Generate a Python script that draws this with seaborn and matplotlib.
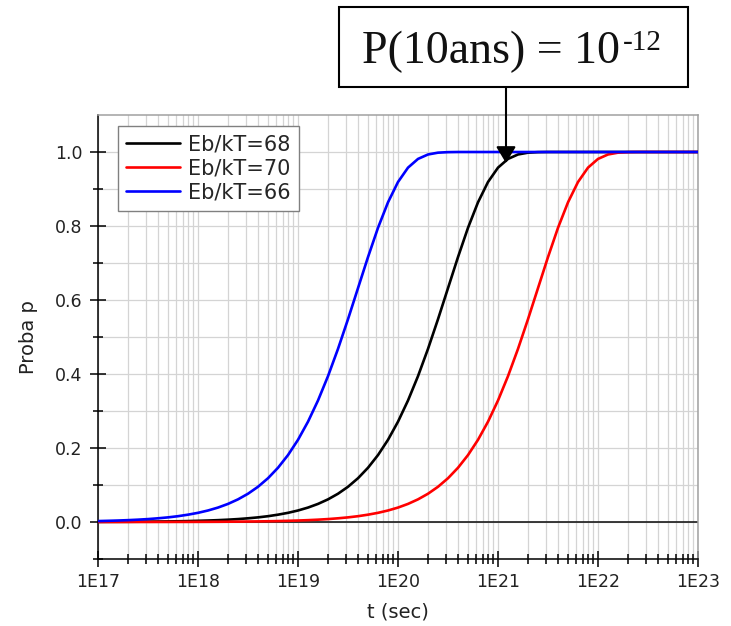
import matplotlib
matplotlib.use("Agg")
import matplotlib.pyplot as plt
import numpy as np
import pandas as pd
import seaborn as sns
from matplotlib.patches import Rectangle
from matplotlib.ticker import FixedLocator, LogLocator, NullFormatter

# ---------------- data ----------------
log_t = [17.0, 17.1, 17.2, 17.3, 17.4, 17.5, 17.6, 17.7, 17.8, 17.9,
         18.0, 18.1, 18.2, 18.3, 18.4, 18.5, 18.6, 18.7, 18.8, 18.9,
         19.0, 19.1, 19.2, 19.3, 19.4, 19.5, 19.6, 19.7, 19.8, 19.9,
         20.0, 20.1, 20.2, 20.3, 20.4, 20.5, 20.6, 20.7, 20.8, 20.9,
         21.0, 21.1, 21.2, 21.3, 21.4, 21.5, 21.6, 21.7, 21.8, 21.9,
         22.0, 22.1, 22.2, 22.3, 22.4, 22.5, 22.6, 22.7, 22.8, 22.9,
         23.0]

p_eb68 = [0.0003, 0.0004, 0.0005, 0.0006, 0.0008, 0.0010, 0.0013, 0.0016, 0.0020, 0.0025,
          0.0032, 0.0040, 0.0050, 0.0063, 0.0079, 0.0100, 0.0125, 0.0157, 0.0198, 0.0248,
          0.0311, 0.0390, 0.0489, 0.0612, 0.0764, 0.0952, 0.1183, 0.1466, 0.1809, 0.2221,
          0.2711, 0.3284, 0.3942, 0.4679, 0.5481, 0.6321, 0.7160, 0.7951, 0.8640, 0.9189,
          0.9577, 0.9813, 0.9933, 0.9982, 0.9996, 1.0, 1.0, 1.0, 1.0, 1.0,
          1.0, 1.0, 1.0, 1.0, 1.0, 1.0, 1.0, 1.0, 1.0, 1.0,
          1.0]

p_eb70 = [0.0000, 0.0001, 0.0001, 0.0001, 0.0001, 0.0001, 0.0002, 0.0002, 0.0003, 0.0003,
          0.0004, 0.0005, 0.0006, 0.0008, 0.0010, 0.0013, 0.0016, 0.0020, 0.0025, 0.0032,
          0.0040, 0.0050, 0.0063, 0.0079, 0.0100, 0.0125, 0.0157, 0.0198, 0.0248, 0.0311,
          0.0390, 0.0489, 0.0612, 0.0764, 0.0952, 0.1183, 0.1466, 0.1809, 0.2221, 0.2711,
          0.3284, 0.3942, 0.4679, 0.5481, 0.6321, 0.7160, 0.7951, 0.8640, 0.9189, 0.9577,
          0.9813, 0.9933, 0.9982, 0.9996, 1.0, 1.0, 1.0, 1.0, 1.0, 1.0,
          1.0]

p_eb66 = [0.0025, 0.0032, 0.0040, 0.0050, 0.0063, 0.0079, 0.0100, 0.0125, 0.0157, 0.0198,
          0.0248, 0.0311, 0.0390, 0.0489, 0.0612, 0.0764, 0.0952, 0.1183, 0.1466, 0.1809,
          0.2221, 0.2711, 0.3284, 0.3942, 0.4679, 0.5481, 0.6321, 0.7160, 0.7951, 0.8640,
          0.9189, 0.9577, 0.9813, 0.9933, 0.9982, 0.9996, 1.0, 1.0, 1.0, 1.0,
          1.0, 1.0, 1.0, 1.0, 1.0, 1.0, 1.0, 1.0, 1.0, 1.0,
          1.0, 1.0, 1.0, 1.0, 1.0, 1.0, 1.0, 1.0, 1.0, 1.0,
          1.0]

series_names = ["Eb/kT=68", "Eb/kT=70", "Eb/kT=66"]
series_colors = ["#000000", "#ff0000", "#0000ff"]

x_tick_values = [1e17, 1e18, 1e19, 1e20, 1e21, 1e22, 1e23]
x_tick_labels = ["1E17", "1E18", "1E19", "1E20", "1E21", "1E22", "1E23"]
y_tick_values = [0.0, 0.2, 0.4, 0.6, 0.8, 1.0]
y_tick_labels = ["0.0", "0.2", "0.4", "0.6", "0.8", "1.0"]
y_minor_values = [-0.1, 0.1, 0.3, 0.5, 0.7, 0.9]

annot_main = "P(10ans) = 10"
annot_sup = "-12"
annot_target_t = 10 ** 21.08
annot_target_p = 0.97

# ---------------- build table ----------------
t_vals = [10 ** v for v in log_t]
frames = []
for name, vals in zip(series_names, [p_eb68, p_eb70, p_eb66]):
    frames.append(pd.DataFrame({"t": t_vals, "p": vals, "series": name}))
df = pd.concat(frames, ignore_index=True)

# ---------------- figure ----------------
sns.set_style("white")
plt.rcParams["font.family"] = ["DejaVu Sans"]

W, H = 731, 626
fig = plt.figure(figsize=(W / 100, H / 100), dpi=100)
ax = fig.add_axes([98 / W, 1 - 559 / H, 600 / W, 444 / H])

ax.axhline(0.0, color="#1a1a1a", lw=1.2, zorder=1.5)

sns.lineplot(data=df, x="t", y="p", hue="series", hue_order=series_names,
             palette=dict(zip(series_names, series_colors)), linewidth=1.9,
             ax=ax, legend=True, zorder=3)
for ln in ax.get_lines():
    ln.set_solid_joinstyle("round")

ax.set_xscale("log")
ax.set_xlim(1e17, 1e23)
ax.set_ylim(-0.1, 1.1)

ax.xaxis.set_major_locator(FixedLocator(x_tick_values))
ax.set_xticklabels(x_tick_labels)
ax.xaxis.set_minor_locator(LogLocator(base=10, subs=np.arange(2, 10), numticks=100))
ax.xaxis.set_minor_formatter(NullFormatter())
ax.yaxis.set_major_locator(FixedLocator(y_tick_values))
ax.set_yticklabels(y_tick_labels)
ax.yaxis.set_minor_locator(FixedLocator(y_minor_values))

ax.set_axisbelow(True)
ax.grid(True, which="both", color="#d4d4d4", lw=0.9)

ax.tick_params(which="both", bottom=True, left=True, top=False, right=False)
ax.tick_params(which="major", direction="inout", length=12, width=1.1,
               labelsize=12.5, colors="#000000", labelcolor="#222222", pad=4)
ax.tick_params(which="minor", direction="inout", length=7, width=1.1, colors="#000000")
ax.tick_params(axis="y", which="major", pad=5)

for side in ["left", "bottom"]:
    ax.spines[side].set_color("#000000")
    ax.spines[side].set_linewidth(1.1)
for side in ["top", "right"]:
    ax.spines[side].set_color("#a0a0a0")
    ax.spines[side].set_linewidth(1.1)

ax.set_xlabel("t (sec)", fontsize=14, color="#222222", labelpad=8)
ax.set_ylabel("Proba p", fontsize=14, color="#222222", labelpad=12)

handles, labels = ax.get_legend_handles_labels()
leg = ax.legend(handles, labels, loc="upper left", bbox_to_anchor=(0.033, 0.975),
                frameon=True, fancybox=False, edgecolor="#808080", framealpha=1,
                prop={"size": 15}, handlelength=2.6, handletextpad=0.35,
                borderpad=0.4, labelspacing=0.2, borderaxespad=0)
leg.get_frame().set_linewidth(1.0)
for line in leg.get_lines():
    line.set_linewidth(1.9)

# annotation box + arrow
fig.patches.append(Rectangle((339 / W, 1 - 87 / H), 349 / W, 80 / H,
                             transform=fig.transFigure, fill=True, fc="white",
                             ec="black", lw=1.5, zorder=5))
main_txt = fig.text(362 / W, 1 - 63 / H, annot_main, ha="left", va="baseline",
                    fontsize=33, family="Liberation Serif", color="#111111", zorder=6)
fig.canvas.draw()
bb = main_txt.get_window_extent()
fig.text((bb.x1 + 3) / W, 1 - 50 / H, annot_sup, ha="left", va="baseline",
         fontsize=21, family="Liberation Serif", color="#111111", zorder=6)
ax.annotate("", xy=(annot_target_t, annot_target_p), xycoords="data",
            xytext=(506 / W, 1 - 87 / H), textcoords="figure fraction",
            arrowprops=dict(arrowstyle="-|>,head_length=0.5,head_width=0.3",
                            color="black", lw=1.5, mutation_scale=20,
                            shrinkA=0, shrinkB=0),
            annotation_clip=False, zorder=6)

fig.savefig("out.png", dpi=100)
